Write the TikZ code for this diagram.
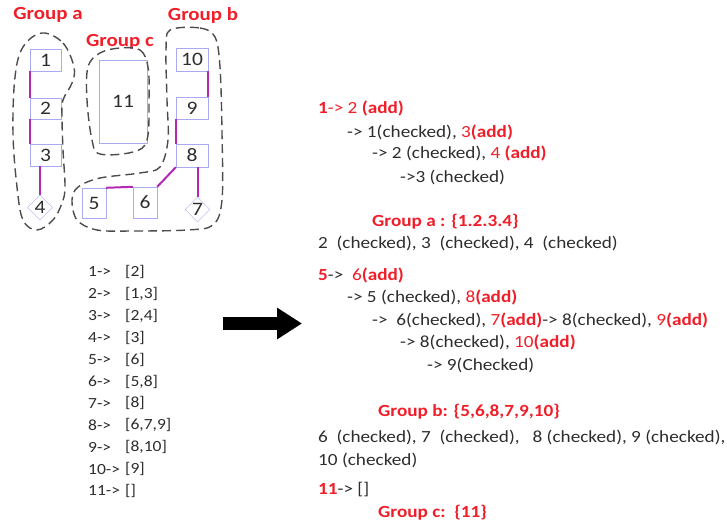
\documentclass[tikz,border=0pt]{standalone}
\usepackage{fontspec}
\setmainfont{Carlito}[FakeStretch=1.13]
\usetikzlibrary{arrows.meta,shapes.geometric}
\definecolor{addred}{RGB}{240,30,40}
\definecolor{tileblue}{RGB}{170,170,240}
\definecolor{linkpurple}{RGB}{180,40,180}
\definecolor{textgray}{RGB}{45,45,45}
\tikzset{
  tile box/.style={draw=tileblue,thin,inner sep=0pt,font=\fontsize{19}{21}\selectfont,text=textgray},
  tile diamond/.style={tile box,diamond,minimum width=25pt,minimum height=25pt},
  link line/.style={line width=2pt,linkpurple},
  group outline/.style={line width=1.4pt,black!70,dash pattern=on 9pt off 5pt},
  group title/.style={font=\fontsize{18.5}{20}\selectfont\bfseries,text=addred},
  list text/.style={anchor=west,inner sep=0pt,font=\fontsize{15.5}{17}\selectfont,text=textgray},
  trace text/.style={anchor=west,inner sep=0pt,font=\fontsize{17}{19}\selectfont,text=textgray},
  trace title/.style={trace text,text=addred,font=\fontsize{17}{19}\selectfont\bfseries},
  big arrow/.style={line width=13pt,-{Triangle[length=25pt,width=30pt]}},
}
\newcommand{\addtxt}[1]{\textcolor{addred}{#1}}

\begin{document}
\begin{tikzpicture}[x=1pt,y=-1pt]
\useasboundingbox (0,0) rectangle (727,525);
\node[group title] (title a) at (48,15) {Group a};
\node[group title] (title c) at (120,42) {Group c};
\node[group title] (title b) at (203,15) {Group b};
\node[tile box,minimum width=31pt,minimum height=22pt] (t1) at (45.5,60) {1};
\node[tile box,minimum width=31pt,minimum height=21pt] (t2) at (45.5,108.5) {2};
\node[tile box,minimum width=31pt,minimum height=22pt] (t3) at (45.5,155) {3};
\node[tile diamond] (t4) at (40,207.5) {4};
\node[tile box,minimum width=48pt,minimum height=83pt] (t11) at (123,101.5) {11};
\node[tile box,minimum width=32pt,minimum height=23pt] (t10) at (192,59.5) {10};
\node[tile box,minimum width=32pt,minimum height=22pt] (t9) at (192,108) {9};
\node[tile box,minimum width=32pt,minimum height=23pt] (t8) at (192,155.5) {8};
\node[tile box,minimum width=24pt,minimum height=30pt] (t5) at (94,203) {5};
\node[tile box,minimum width=24pt,minimum height=31pt] (t6) at (145,202.5) {6};
\node[tile diamond] (t7) at (197.5,209.5) {7};
\draw[link line] (t1.south west) -- (t2.north west);
\draw[link line] (t2.south west) -- (t3.north west);
\draw[link line] (t4.north) -- (t4.north |- t3.south);
\draw[link line] (t10.south east) -- (t9.north east);
\draw[link line] (t9.south west) -- (t8.north west);
\draw[link line] (t8.south west) -- (t6.north east);
\draw[link line] (t5.north east) -- (t6.north west);
\draw[link line] (t7.north) -- (t7.north |- t8.south);
\draw[group outline] plot[smooth cycle,tension=0.6] coordinates {(42,33) (63,43) (74,67) (72,83) (63,100) (62,117) (63,150) (65,187) (62,203) (53,220) (37,230) (23,220) (17,187) (13,133) (15,77) (23,47)};
\draw[group outline] plot[smooth cycle,tension=0.6] coordinates {(120,48) (140,50) (148,67) (149,100) (147,140) (133,152) (100,154) (92,140) (87,100) (88,67) (100,53)};
\draw[group outline] plot[smooth cycle,tension=0.55] coordinates {(170,30) (200,28) (215,37) (220,67) (222,133) (222,200) (213,225) (187,230) (133,231) (97,230) (77,220) (72,200) (78,187) (100,178) (140,173) (160,167) (168,140) (167,100) (166,50)};
\foreach \lhs/\rhs [count=\r from 0] in {1/{[2]},2/{[1,3]},3/{[2,4]},4/{[3]},5/{[6]},6/{[5,8]},7/{[8]},8/{[6,7,9]},9/{[8,10]},10/{[9]},11/{[]}} {
  \node[list text] (ln\lhs) at (88,{272+21.9*\r}) {\lhs->};
  \node[list text] (lr\lhs) at (125,{272+21.9*\r}) {\rhs};
}
\coordinate (arrow tail) at (223,323.5);
\coordinate (arrow tip) at (302,323.5);
\draw[big arrow] (arrow tail) -- (arrow tip);
\node[trace text] (a1) at (318,108) {\addtxt{\textbf{1}-> 2 \textbf{(add)}}};
\node[trace text] (a2) at (347,132) {-> 1(checked), \addtxt{3\textbf{(add)}}};
\node[trace text] (a3) at (372,153) {-> 2 (checked), \addtxt{4 \textbf{(add)}}};
\node[trace text] (a4) at (400,177) {->3 (checked)};
\node[trace title] (ga) at (372,222) {Group a : \{1.2.3.4\}};
\node[trace text] (a5) at (318,243) {2\ \ (checked), 3\ \ (checked), 4\ \ (checked)};
\node[trace text] (b1) at (318,275) {\addtxt{\textbf{5}}->\ \ \addtxt{6\textbf{(add)}}};
\node[trace text] (b2) at (347,297) {-> 5 (checked), \addtxt{8\textbf{(add)}}};
\node[trace text] (b3) at (372,320) {->\ \ 6(checked), \addtxt{7\textbf{(add)}}-> 8(checked), \addtxt{9\textbf{(add)}}};
\node[trace text] (b4) at (400,342) {-> 8(checked), \addtxt{10\textbf{(add)}}};
\node[trace text] (b5) at (427,365) {-> 9(Checked)};
\node[trace title] (gb) at (378,412) {Group b: \{5,6,8,7,9,10\}};
\node[trace text] (b6) at (318,437) {6\ \ (checked), 7\ \ (checked),\ \ \ 8 (checked), 9 (checked),};
\node[trace text] (b7) at (318,460) {10 (checked)};
\node[trace text] (c1) at (318,490) {\addtxt{\textbf{11}}-> []};
\node[trace title] (gc) at (378,513) {Group c:\ \ \{11\}};
\end{tikzpicture}
\end{document}
